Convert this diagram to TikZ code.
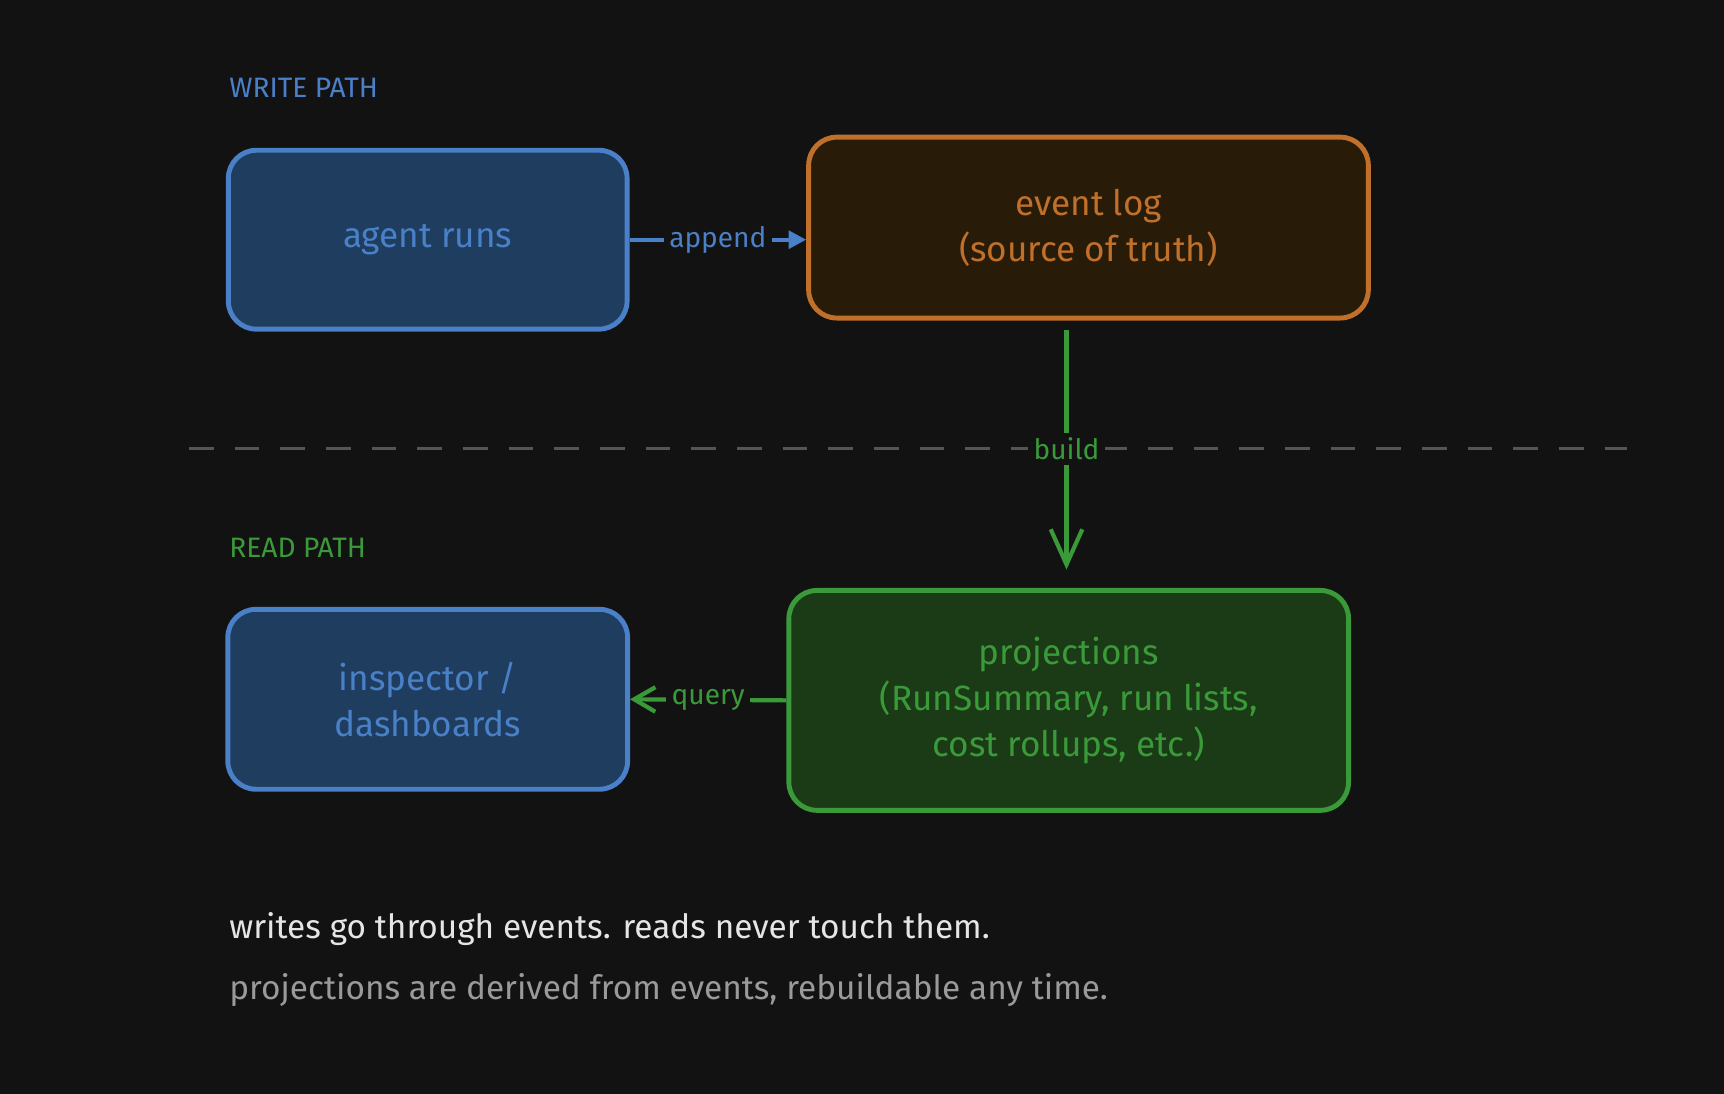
\documentclass[tikz,border=0pt]{standalone}
\usepackage{fontspec}
\setmainfont{Fira Sans}
\usetikzlibrary{arrows.meta}
\definecolor{bg}{HTML}{121212}
\definecolor{wblue}{HTML}{4A80C8}
\definecolor{wbluefill}{HTML}{1F3D5E}
\definecolor{worange}{HTML}{C0702A}
\definecolor{worangefill}{HTML}{281C08}
\definecolor{rgreen}{HTML}{3A9A3A}
\definecolor{rgreenfill}{HTML}{1B3A16}
\definecolor{dgray}{HTML}{555555}
\definecolor{lgray}{HTML}{9A9A9A}
\tikzset{
  box/.style={draw,rounded corners=8pt,line width=1.4pt,align=center,font=\fontsize{10}{13}\selectfont},
  lbl/.style={font=\fontsize{8}{9}\selectfont,fill=bg,inner sep=1.5pt},
  head/.style={anchor=west,inner sep=0pt,font=\fontsize{8}{9}\selectfont},
}
\begin{document}
\begin{tikzpicture}[x=0.011cm,y=-0.011cm]
  \fill[bg] (0,0) rectangle (1568,995);
  \useasboundingbox (0,0) rectangle (1568,995);
  \node[head,text=wblue] (writehead) at (208,80) {WRITE PATH};
  \node[head,text=rgreen] (readhead) at (208,498) {READ PATH};
  \draw[dgray,line width=1pt,dash pattern=on 7pt off 6pt] (172,408) -- (1480,408);
  \node[box,draw=wblue,fill=wbluefill,text=wblue,minimum width=3.99cm,minimum height=1.79cm] (agent) at (389,218) {agent runs};
  \node[box,draw=worange,fill=worangefill,text=worange,minimum width=5.6cm,minimum height=1.81cm] (log) at (990,207) {event log\\(source of truth)};
  \node[box,draw=wblue,fill=wbluefill,text=wblue,minimum width=4.0cm,minimum height=1.8cm] (insp) at (389,636) {inspector /\\dashboards};
  \node[box,draw=rgreen,fill=rgreenfill,text=rgreen,minimum width=5.6cm,minimum height=2.2cm] (proj) at (972,637) {projections\\(RunSummary, run lists,\\cost rollups, etc.)};
  \coordinate (buildtop) at (970,300);
  \coordinate (buildend) at (970,518);
  \draw[wblue,line width=1.2pt,-{Triangle[length=5pt,width=5pt]}] (agent.east) -- node[lbl,text=wblue] {append} (agent.east -| log.west);
  \draw[rgreen,line width=1.2pt,-{Straight Barb[length=10pt,width=9pt]}] (buildtop) -- node[lbl,text=rgreen,pos=0.497] {build} (buildend);
  \draw[rgreen,line width=1.2pt,-{Straight Barb[length=6pt,width=7pt]}] (proj.west) -- node[lbl,text=rgreen] {query} (insp.east);
  \node[head,text=white!90!black,font=\fontsize{9.5}{11}\selectfont] (note1) at (208,845) {writes go through events. reads never touch them.};
  \node[head,text=lgray,font=\fontsize{9.5}{11}\selectfont] (note2) at (208,900) {projections are derived from events, rebuildable any time.};
\end{tikzpicture}
\end{document}
